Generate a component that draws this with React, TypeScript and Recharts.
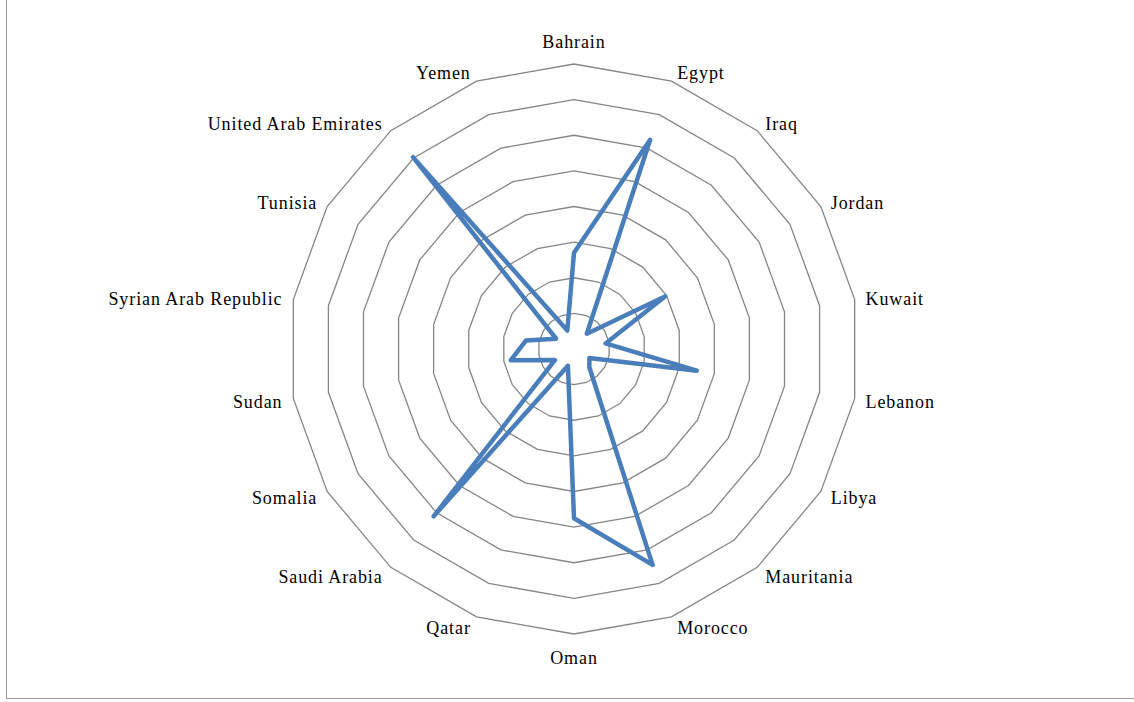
import React from 'react';
import { RadarChart, Radar, PolarGrid, PolarAngleAxis, PolarRadiusAxis } from 'recharts';

const countries = [
  'Bahrain', 'Egypt', 'Iraq', 'Jordan', 'Kuwait', 'Lebanon', 'Libya', 'Mauritania', 'Morocco',
  'Oman', 'Qatar', 'Saudi Arabia', 'Somalia', 'Sudan', 'Syrian Arab Republic', 'Tunisia',
  'United Arab Emirates', 'Yemen',
];
const values = [2.7, 6.25, 0.56, 2.95, 0.9, 3.5, 0.5, 0.67, 6.45, 4.75, 0.5, 6.13, 0.62, 1.8, 1.37, 0.58, 7.03, 0.55];
const radiusTicks = [0, 1, 2, 3, 4, 5, 6, 7, 8];

const data = countries.map((name, i) => ({ name, value: values[i] }));

const FONT = '"Liberation Serif", "Times New Roman", serif';

function CountryTick(props: any) {
  const { x, y, payload, textAnchor } = props;
  const fromTop = 90 - payload.coordinate;
  const c = Math.cos((fromTop * Math.PI) / 180);
  let dx = 0;
  let dy = 0;
  if (textAnchor === 'middle') {
    dy = c > 0 ? -14 : 16;
  } else {
    dx = textAnchor === 'start' ? 3 : -3;
    dy = -2.6 * c + 1;
  }
  return (
    <text
      x={x + dx}
      y={y + dy}
      dy="0.35em"
      textAnchor={textAnchor}
      fontFamily={FONT}
      fontSize={18}
      letterSpacing={0.9}
      fill="#000"
    >
      {payload.value}
    </text>
  );
}

export default function App() {
  return (
    <div style={{ position: 'fixed', left: 0, top: 0, width: 1134, height: 702, background: '#fff', overflow: 'hidden' }}>
      <div
        style={{
          position: 'absolute',
          left: 6,
          top: -4,
          width: 1140,
          height: 703,
          borderLeft: '1.5px solid #9a9a9a',
          borderBottom: '1.5px solid #9a9a9a',
          boxSizing: 'border-box',
        }}
      />
      <div style={{ position: 'absolute', left: 0, top: 0 }}>
        <RadarChart width={1134} height={702} data={data} cx={574} cy={349} outerRadius={285}>
          <PolarGrid gridType="polygon" radialLines={false} stroke="#868686" strokeWidth={1.3} />
          <PolarAngleAxis dataKey="name" tick={<CountryTick />} tickLine={false} axisLine={false} />
          <PolarRadiusAxis domain={[0, 8]} ticks={radiusTicks} tickCount={9} tick={false} axisLine={false} />
          <Radar
            dataKey="value"
            stroke="#4a7ebb"
            strokeWidth={4.5}
            strokeLinejoin="round"
            fill="none"
            fillOpacity={0}
            dot={false}
            isAnimationActive={false}
          />
        </RadarChart>
      </div>
    </div>
  );
}
